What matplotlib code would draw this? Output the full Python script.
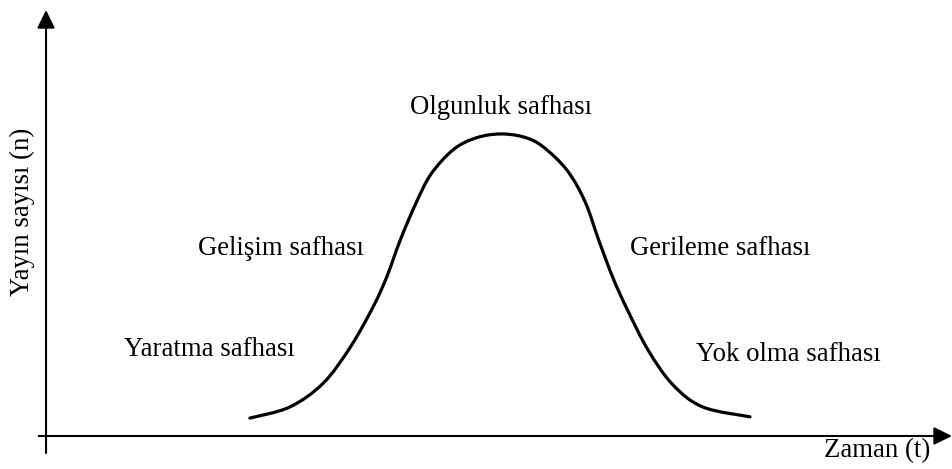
import matplotlib.pyplot as plt
from matplotlib.path import Path
from matplotlib.patches import PathPatch

plt.rcParams['font.family'] = ['Liberation Serif', 'DejaVu Serif']

# curve (time, publication count), axis origin at (0, 0)
zaman = [22.5, 26.9, 30.6, 33.6, 36.1, 37.6, 39.1, 40.8, 42.5, 45.0, 47.5,
         50.1, 52.7, 54.8, 57.5, 59.5, 61.0, 62.6, 64.2, 66.5, 69.2, 72.5,
         77.7]
yayin = [4.2, 6.8, 12.4, 20.9, 30.3, 37.3, 46.0, 54.5, 61.5, 67.3, 70.0,
         70.9, 70.2, 68.0, 62.4, 55.0, 46.0, 37.0, 29.5, 20.0, 12.0, 6.8,
         4.5]

# phase labels and where they sit (t, n)
safhalar = ["Yaratma safhası", "Gelişim safhası", "Olgunluk safhası",
            "Gerileme safhası", "Yok olma safhası"]
safha_t = [18.0, 25.9, 50.2, 74.4, 81.9]
safha_n = [20.2, 44.1, 77.0, 44.1, 19.2]


def smooth_path(xs, ys):
    # catmull-rom through the points, drawn as bezier segments
    pts = list(zip(xs, ys))
    verts = [pts[0]]
    codes = [Path.MOVETO]
    for i in range(len(pts) - 1):
        p0 = pts[i - 1] if i > 0 else pts[i]
        p1 = pts[i]
        p2 = pts[i + 1]
        p3 = pts[i + 2] if i + 2 < len(pts) else pts[i + 1]
        c1 = (p1[0] + (p2[0] - p0[0]) / 6, p1[1] + (p2[1] - p0[1]) / 6)
        c2 = (p2[0] - (p3[0] - p1[0]) / 6, p2[1] - (p3[1] - p1[1]) / 6)
        verts += [c1, c2, p2]
        codes += [Path.CURVE4] * 3
    return Path(verts, codes)


fig = plt.figure(figsize=(9.52, 4.69), dpi=100)
ax = fig.add_axes([0, 0, 1, 1])
ax.set_xlim(-5.08, 100)
ax.set_ylim(-7.75, 102.35)
ax.axis('off')

ax.add_patch(PathPatch(smooth_path(zaman, yayin), fill=False, color='black',
                       lw=2.3, capstyle='round', joinstyle='round'))

arrow = dict(arrowstyle='-|>,head_length=0.55,head_width=0.27', lw=1.5,
             color='black', shrinkA=0, shrinkB=0, mutation_scale=20)
ax.annotate('', xy=(100, 0), xytext=(-0.8, 0), arrowprops=arrow)
ax.annotate('', xy=(0, 100), xytext=(0, -4.0), arrowprops=arrow)

for s, t, n in zip(safhalar, safha_t, safha_n):
    ax.text(t, n, s, fontsize=19.3, ha='center', va='center')

ax.text(97.6, -3.4, "Zaman (t)", fontsize=19.3, ha='right', va='center')
ax.text(-2.6, 52.5, "Yayın sayısı (n)", fontsize=19.3, ha='center',
        va='center', rotation=90)

fig.savefig("out.png", dpi=100)
